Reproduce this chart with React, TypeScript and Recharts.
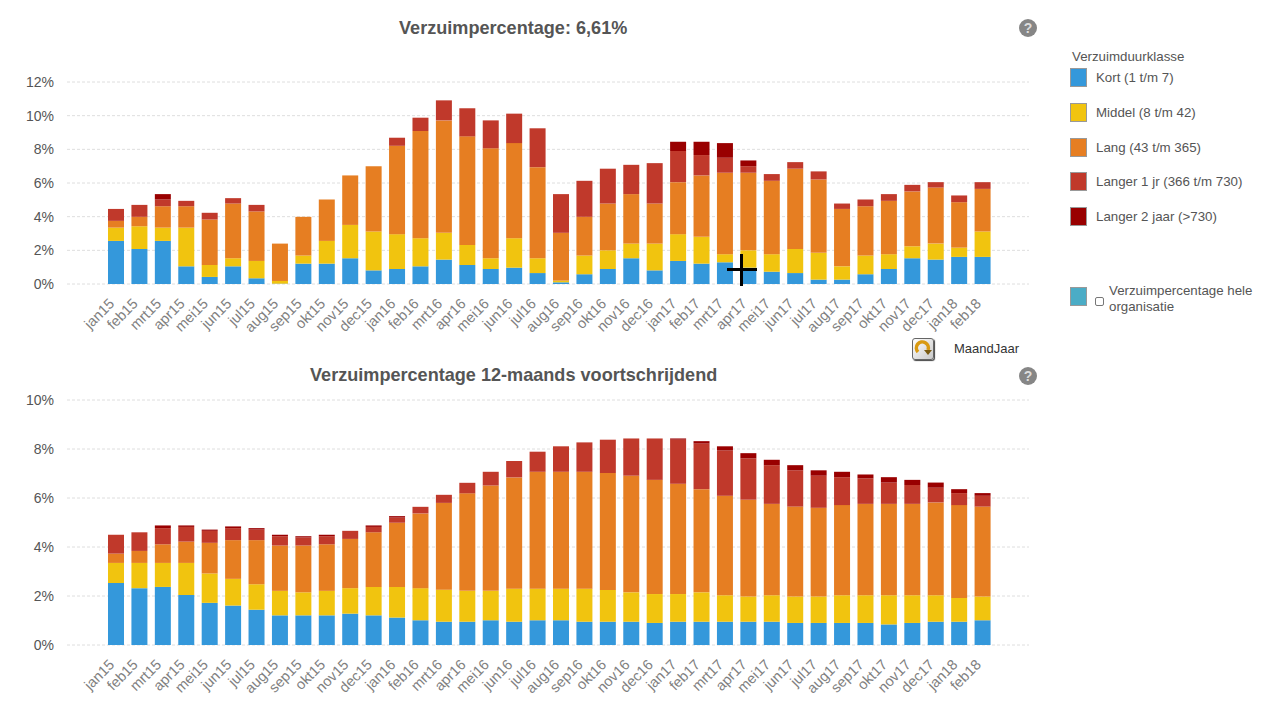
import React from 'react';
import { BarChart, Bar, XAxis, YAxis, CartesianGrid } from 'recharts';

const months = ['jan15','feb15','mrt15','apr15','mei15','jun15','jul15','aug15','sep15','okt15','nov15','dec15','jan16','feb16','mrt16','apr16','mei16','jun16','jul16','aug16','sep16','okt16','nov16','dec16','jan17','feb17','mrt17','apr17','mei17','jun17','jul17','aug17','sep17','okt17','nov17','dec17','jan18','feb18'];

const kortMaand = [2.56,2.08,2.56,1.05,.42,1.05,.34,.02,1.21,1.21,1.53,.81,.89,1.05,1.45,1.13,.89,.97,.65,.10,.58,.89,1.53,.81,1.37,1.21,1.29,.97,.73,.65,.26,.26,.58,.89,1.53,1.45,1.61,1.61];
const middelMaand = [.79,1.35,.79,2.30,.71,.48,1.03,.16,.48,1.35,1.98,2.31,2.07,1.67,1.59,1.19,.64,1.75,.88,.10,1.11,1.11,.87,1.59,1.59,1.59,.48,1.03,1.04,1.43,1.59,.79,1.11,.88,.71,.95,.55,1.51];
const langMaand = [.40,.56,1.27,1.27,2.70,3.25,2.94,2.22,2.30,2.46,2.94,3.88,5.25,6.37,6.68,6.45,6.53,5.65,5.41,2.84,2.30,2.78,2.94,2.38,3.09,3.65,4.84,4.61,4.36,4.77,4.36,3.41,2.93,3.17,3.26,3.33,2.70,2.53];
const langer1Maand = [.71,.71,.40,.32,.40,.32,.39,0,0,0,0,0,.48,.79,1.19,1.67,1.66,1.75,2.31,2.30,2.14,2.07,1.74,2.40,1.85,1.21,.89,.39,.40,.39,.48,.32,.40,.40,.39,.32,.40,.40];
const langer2Maand = [0,0,.32,0,0,0,0,0,0,0,0,0,0,0,0,0,0,0,0,0,0,0,0,0,.55,.79,.87,.34,0,0,0,0,0,0,0,0,0,0];

const kortJaar = [2.53,2.32,2.37,2.04,1.72,1.61,1.44,1.21,1.21,1.21,1.28,1.21,1.12,1.01,.95,.95,1.01,.95,1.01,1.01,.95,.95,.95,.90,.95,.95,.95,.95,.95,.90,.90,.90,.90,.84,.90,.95,.95,1.01];
const middelJaar = [.82,1.03,.98,1.31,1.20,1.09,1.04,1.00,.94,1.00,1.04,1.16,1.25,1.31,1.31,1.26,1.20,1.35,1.29,1.29,1.35,1.30,1.20,1.18,1.13,1.20,1.08,1.03,1.08,1.08,1.08,1.13,1.13,1.19,1.13,1.08,.97,.97];
const langJaar = [.38,.49,.76,.87,1.25,1.58,1.80,1.85,1.91,1.90,2.01,2.23,2.62,3.05,3.54,3.98,4.30,4.54,4.77,4.77,4.77,4.77,4.76,4.66,4.50,4.21,4.06,3.95,3.73,3.67,3.62,3.68,3.73,3.73,3.73,3.79,3.79,3.67];
const langer1Jaar = [.77,.76,.66,.60,.49,.49,.43,.38,.33,.33,.33,.22,.21,.27,.33,.43,.56,.67,.82,1.04,1.20,1.36,1.52,1.69,1.80,1.86,1.85,1.69,1.58,1.48,1.31,1.14,1.04,.87,.77,.60,.49,.44];
const langer2Jaar = [0,0,.11,.06,.05,.07,.06,.06,.05,.06,0,.06,.06,0,0,0,0,0,0,0,0,0,0,0,.05,.10,.17,.21,.22,.21,.22,.22,.16,.22,.21,.21,.16,.11];

const seriesNames = ['Kort (1 t/m 7)','Middel (8 t/m 42)','Lang (43 t/m 365)','Langer 1 jr (366 t/m 730)','Langer 2 jaar (>730)'];
const seriesColors = ['#3498db','#f1c40f','#e67e22','#c0392b','#990000'];
const ticksMaand = [0,2,4,6,8,10,12];
const ticksJaar = [0,2,4,6,8,10];

const FONT = '"Liberation Sans", Arial, sans-serif';

const toRows = (cols: number[][]) =>
  months.map((m, i) => ({ m, s0: cols[0][i], s1: cols[1][i], s2: cols[2][i], s3: cols[3][i], s4: cols[4][i] }));

const dataMaand = toRows([kortMaand, middelMaand, langMaand, langer1Maand, langer2Maand]);
const dataJaar = toRows([kortJaar, middelJaar, langJaar, langer1Jaar, langer2Jaar]);

function MonthTick({ x, y, payload }: any) {
  return (
    <text
      transform={`translate(${x - 5},${y + 8}) rotate(-45)`}
      textAnchor="end"
      fontSize={14.5}
      fill="#808080"
      fontFamily={FONT}
      dy="0.45em"
    >
      {payload.value}
    </text>
  );
}

function Stacked({ data, ticks, top, height }: { data: any[]; ticks: number[]; top: number; height: number }) {
  return (
    <div style={{ position: 'absolute', left: 0, top }}>
      <BarChart width={1040} height={height} data={data} margin={{ top: 10, right: 11, bottom: 0, left: 0 }} barCategoryGap={0}>
        <CartesianGrid vertical={false} stroke="#dedede" strokeDasharray="3 2" />
        <XAxis
          dataKey="m"
          interval={0}
          height={70}
          axisLine={false}
          tickLine={false}
          padding={{ left: 37, right: 35 }}
          tick={<MonthTick />}
        />
        <YAxis
          width={67}
          domain={[0, ticks[ticks.length - 1]]}
          ticks={ticks}
          axisLine={false}
          tickLine={false}
          tickMargin={7}
          tickFormatter={(v: number) => `${v}%`}
          tick={{ fontSize: 14, fill: '#555', fontFamily: FONT }}
        />
        {seriesNames.map((n, i) => (
          <Bar key={n} dataKey={`s${i}`} name={n} stackId="a" barSize={16} fill={seriesColors[i]} isAnimationActive={false} />
        ))}
      </BarChart>
    </div>
  );
}

function Help({ top }: { top: number }) {
  return (
    <div style={{ position: 'absolute', left: 1019, top, width: 18, height: 18, borderRadius: 9, background: '#868686', color: '#ddd', fontFamily: FONT, fontWeight: 700, fontSize: 14, lineHeight: '18px', textAlign: 'center' }}>?</div>
  );
}

const titleStyle: React.CSSProperties = { position: 'absolute', fontFamily: FONT, fontWeight: 700, color: '#555', whiteSpace: 'nowrap' };
const LEGEND_SIZE = 13.3;

export default function App() {
  return (
    <div style={{ position: 'absolute', left: 0, top: 0, width: 1265, height: 711, overflow: 'hidden', background: '#fff', fontFamily: FONT }}>
      <div style={{ ...titleStyle, left: 399, top: 17, fontSize: 18.1, lineHeight: '22px' }}>Verzuimpercentage: 6,61%</div>
      <Help top={19} />
      <Stacked data={dataMaand} ticks={ticksMaand} top={72} height={282} />

      <div style={{ position: 'absolute', left: 912, top: 338, width: 22, height: 22, boxSizing: 'border-box', border: '1px solid #666', borderRadius: 3, background: 'linear-gradient(135deg,#fff,#c9c9c9)', boxShadow: '1px 1px 1px #444' }}>
        <svg width="20" height="20" viewBox="0 0 20 20" style={{ display: 'block' }}>
          <path d="M5 13 A6 6 0 1 1 15 11" fill="none" stroke="#d99a12" strokeWidth="3.5" />
          <path d="M11 11 L19 11 L15 16 Z" fill="#7a5a10" />
        </svg>
      </div>
      <div style={{ position: 'absolute', left: 954, top: 342, fontSize: 13, lineHeight: '14px', color: '#333' }}>MaandJaar</div>

      <div style={{ ...titleStyle, left: 310, top: 364, fontSize: 18.1, lineHeight: '22px' }}>Verzuimpercentage 12-maands voortschrijdend</div>
      <Help top={367} />
      <Stacked data={dataJaar} ticks={ticksJaar} top={390} height={325} />

      <div style={{ position: 'absolute', left: 1072, top: 50, fontSize: LEGEND_SIZE, lineHeight: '14px', color: '#555' }}>Verzuimduurklasse</div>
      {seriesNames.map((n, i) => (
        <React.Fragment key={n}>
          <div style={{ position: 'absolute', left: 1070, top: 68 + i * 34.8, width: 17, height: 19, boxSizing: 'border-box', border: '1px solid #999', background: seriesColors[i] }} />
          <div style={{ position: 'absolute', left: 1096, top: 71 + i * 34.8, fontSize: LEGEND_SIZE, lineHeight: '14px', color: '#555', whiteSpace: 'nowrap' }}>{n}</div>
        </React.Fragment>
      ))}
      <div style={{ position: 'absolute', left: 1070, top: 287, width: 17, height: 19, boxSizing: 'border-box', border: '1px solid #999', background: '#4bacc6' }} />
      <div style={{ position: 'absolute', left: 1095, top: 297, width: 9, height: 9, boxSizing: 'border-box', border: '1px solid #777', borderRadius: 2, background: '#fff' }} />
      <div style={{ position: 'absolute', left: 1109, top: 283, fontSize: LEGEND_SIZE, lineHeight: '16px', color: '#555', width: 150 }}>Verzuimpercentage hele organisatie</div>

      <div style={{ position: 'absolute', left: 727, top: 268, width: 30, height: 3, background: '#000' }} />
      <div style={{ position: 'absolute', left: 740, top: 254, width: 3, height: 32, background: '#000' }} />
    </div>
  );
}
